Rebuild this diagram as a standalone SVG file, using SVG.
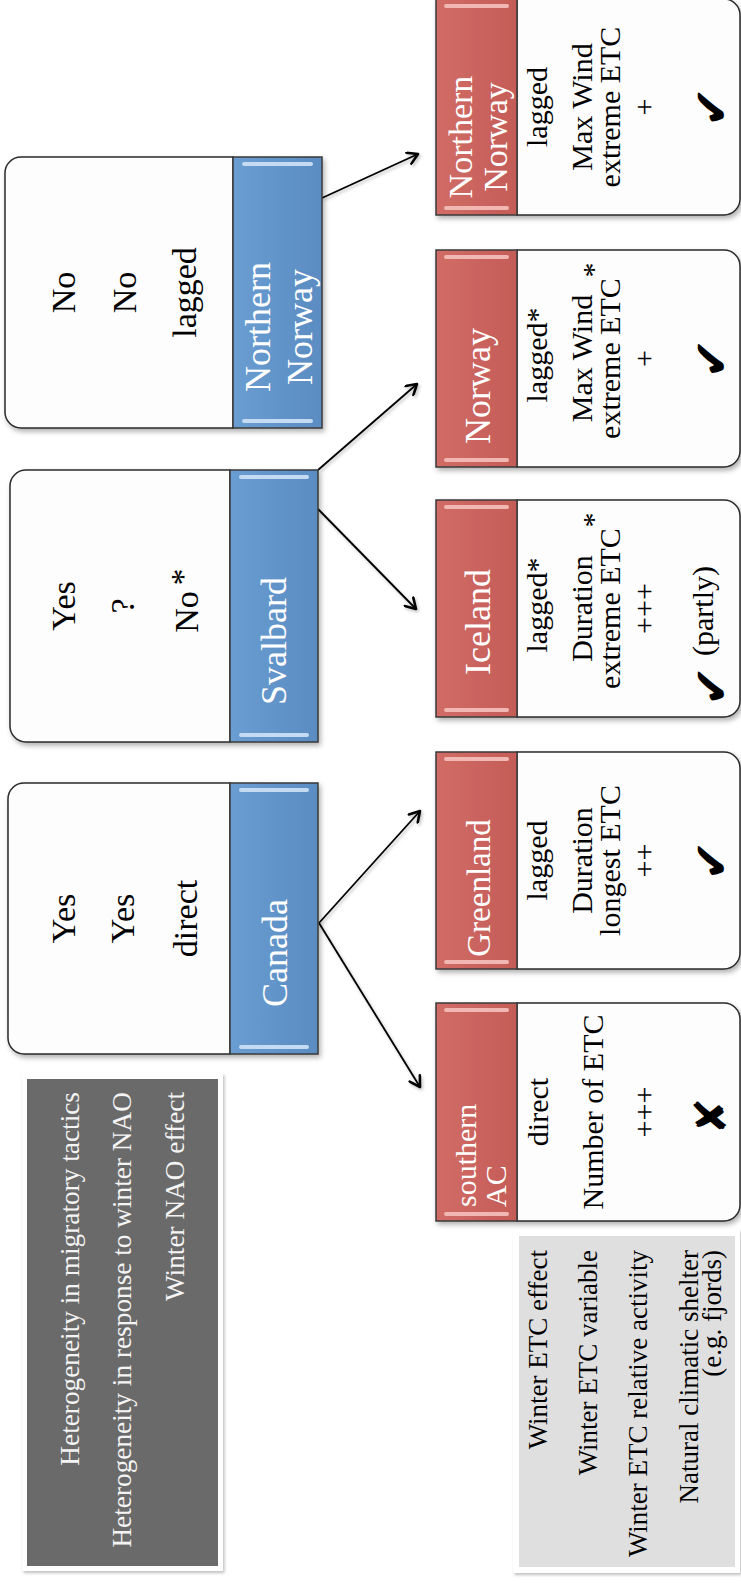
<svg xmlns="http://www.w3.org/2000/svg" width="741" height="1583" viewBox="0 0 741 1583">
<style>
.box{fill:#fdfdfd;stroke:#2a2a2a;stroke-width:1.5}
.blue{fill:url(#gb);stroke:#3a3a3a;stroke-width:1.5}
.red{fill:url(#gr);stroke:#3a3a3a;stroke-width:1.5}
.hb{fill:#c4dbf3}
.hr{fill:#f1b7b3}
.t{font-family:"Liberation Serif","Times New Roman",serif}
.body{font-size:34px;fill:#000;text-anchor:middle}
.rb{font-size:30px;fill:#000;text-anchor:middle}
.hdr{font-size:36px;fill:#fff;text-anchor:middle}
.sym{font-family:"DejaVu Sans",sans-serif;font-size:48px;fill:#000;text-anchor:middle}
.legd{font-size:27.3px;fill:#f4f4f4;text-anchor:end}
.legl{font-size:27px;fill:#000;text-anchor:end}
.con{fill:none;stroke:#000;stroke-width:1.8;marker-end:url(#arr)}
</style>
<defs>
<linearGradient id="gb" x1="0" y1="0" x2="1" y2="0"><stop offset="0" stop-color="#6a9dd1"/><stop offset="1" stop-color="#5a8cc2"/></linearGradient>
<linearGradient id="gr" x1="0" y1="0" x2="1" y2="0"><stop offset="0" stop-color="#d16c66"/><stop offset="1" stop-color="#c45c57"/></linearGradient>
<filter id="sh" x="-10%" y="-10%" width="130%" height="130%"><feDropShadow dx="2" dy="3" stdDeviation="2.5" flood-color="#000" flood-opacity="0.3"/></filter>
<filter id="shl" x="-10%" y="-10%" width="130%" height="130%"><feDropShadow dx="1.5" dy="2" stdDeviation="1.5" flood-color="#000" flood-opacity="0.25"/></filter>
<marker id="arr" viewBox="0 0 14 14" refX="12" refY="7" markerWidth="14" markerHeight="14" markerUnits="userSpaceOnUse" orient="auto"><path d="M2,1 L12,7 L2,13" fill="none" stroke="#000" stroke-width="2.6" stroke-linecap="round" stroke-linejoin="round"/></marker>
</defs>
<rect x="0" y="0" width="741" height="1583" fill="#fff"/>

<g id="connectors" filter="url(#shl)">
<path class="con" d="M322,198 L418,154"/>
<path class="con" d="M318,470 L417,384"/>
<path class="con" d="M318,509 L416,609"/>
<path class="con" d="M319,923 L420,811"/>
<path class="con" d="M319,923 L420,1087"/>
</g>

<g id="node-northern-norway-blue">
<g filter="url(#sh)">
<path class="box" d="M233,157 H21 A16,16 0 0 0 5,173 V412 A16,16 0 0 0 21,428 H233 Z"/>
<rect class="blue" x="233" y="157" width="89" height="271"/>
</g>
<rect class="hb" x="242" y="162" width="71" height="4" rx="2"/>
<rect class="hb" x="242" y="419" width="71" height="4" rx="2"/>
<text class="t body" transform="translate(75,292.5) rotate(-90)">No</text>
<text class="t body" transform="translate(136,292.5) rotate(-90)">No</text>
<text class="t body" transform="translate(196,292.5) rotate(-90)">lagged</text>
<text class="t hdr" transform="translate(270,327) rotate(-90)">Northern</text>
<text class="t hdr" transform="translate(312,327) rotate(-90)">Norway</text>
</g>

<g id="node-svalbard">
<g filter="url(#sh)">
<path class="box" d="M230,470 H26 A16,16 0 0 0 10,486 V726 A16,16 0 0 0 26,742 H230 Z"/>
<rect class="blue" x="230" y="470" width="88" height="272"/>
</g>
<rect class="hb" x="239" y="475" width="70" height="4" rx="2"/>
<rect class="hb" x="239" y="733" width="70" height="4" rx="2"/>
<text class="t body" transform="translate(75,606) rotate(-90)">Yes</text>
<text class="t body" transform="translate(134,606) rotate(-90)">?</text>
<text class="t body" transform="translate(198,612) rotate(-90)">No</text>
<text class="t body" transform="translate(194,577) rotate(-90)">*</text>
<text class="t hdr" transform="translate(286,641) rotate(-90)">Svalbard</text>
</g>

<g id="node-canada">
<g filter="url(#sh)">
<path class="box" d="M230,783 H24 A16,16 0 0 0 8,799 V1038 A16,16 0 0 0 24,1054 H230 Z"/>
<rect class="blue" x="230" y="783" width="88" height="271"/>
</g>
<rect class="hb" x="239" y="788" width="70" height="4" rx="2"/>
<rect class="hb" x="239" y="1045" width="70" height="4" rx="2"/>
<text class="t body" transform="translate(75,918.5) rotate(-90)">Yes</text>
<text class="t body" transform="translate(134,918.5) rotate(-90)">Yes</text>
<text class="t body" transform="translate(197,918.5) rotate(-90)">direct</text>
<text class="t hdr" transform="translate(287,953) rotate(-90)">Canada</text>
</g>

<g id="legend-nao">
<rect x="22" y="1073" width="201" height="498" fill="#fff" filter="url(#shl)"/>
<rect x="27" y="1079" width="191" height="487" fill="#6a6a6a"/>
<text class="t legd" transform="translate(79,1092) rotate(-90)">Heterogeneity in migratory tactics</text>
<text class="t legd" transform="translate(131,1092) rotate(-90)">Heterogeneity in response to winter NAO</text>
<text class="t legd" transform="translate(184,1092) rotate(-90)">Winter NAO effect</text>
</g>

<g id="node-northern-norway-red">
<g filter="url(#sh)">
<path class="box" d="M517,-1 H724 A16,16 0 0 1 740,15 V199 A16,16 0 0 1 724,215 H517 Z"/>
<rect class="red" x="436" y="-1" width="81" height="216"/>
</g>
<rect class="hr" x="444" y="4" width="65" height="4" rx="2"/>
<rect class="hr" x="444" y="206" width="65" height="4" rx="2"/>
<text class="t hdr" style="font-size:34px" transform="translate(472,137) rotate(-90)">Northern</text>
<text class="t hdr" style="font-size:34px" transform="translate(507,137) rotate(-90)">Norway</text>
<text class="t rb" transform="translate(547,107) rotate(-90)">lagged</text>
<text class="t rb" transform="translate(592,107) rotate(-90)">Max Wind</text>
<text class="t rb" transform="translate(620,107) rotate(-90)">extreme ETC</text>
<text class="t rb" transform="translate(654,107) rotate(-90)">+</text>
<text class="sym" transform="translate(728,107) rotate(-90)">✔</text>
</g>

<g id="node-norway">
<g filter="url(#sh)">
<path class="box" d="M517,250 H724 A16,16 0 0 1 740,266 V451 A16,16 0 0 1 724,467 H517 Z"/>
<rect class="red" x="436" y="250" width="81" height="217"/>
</g>
<rect class="hr" x="444" y="255" width="65" height="4" rx="2"/>
<rect class="hr" x="444" y="458" width="65" height="4" rx="2"/>
<text class="t hdr" transform="translate(490,386) rotate(-90)">Norway</text>
<text class="t rb" transform="translate(547,355) rotate(-90)">lagged*</text>
<text class="t rb" transform="translate(592,358.5) rotate(-90)">Max Wind</text>
<text class="t rb" transform="translate(620,358.5) rotate(-90)">extreme ETC</text>
<text class="t rb" transform="translate(603,270) rotate(-90)">*</text>
<text class="t rb" transform="translate(654,358.5) rotate(-90)">+</text>
<text class="sym" transform="translate(728,358.5) rotate(-90)">✔</text>
</g>

<g id="node-iceland">
<g filter="url(#sh)">
<path class="box" d="M517,500 H724 A16,16 0 0 1 740,516 V701 A16,16 0 0 1 724,717 H517 Z"/>
<rect class="red" x="436" y="500" width="81" height="217"/>
</g>
<rect class="hr" x="444" y="505" width="65" height="4" rx="2"/>
<rect class="hr" x="444" y="708" width="65" height="4" rx="2"/>
<text class="t hdr" transform="translate(490,622) rotate(-90)">Iceland</text>
<text class="t rb" transform="translate(547,605) rotate(-90)">lagged*</text>
<text class="t rb" transform="translate(592,608.5) rotate(-90)">Duration</text>
<text class="t rb" transform="translate(620,608.5) rotate(-90)">extreme ETC</text>
<text class="t rb" transform="translate(603,520) rotate(-90)">*</text>
<text class="t rb" transform="translate(654,608.5) rotate(-90)">+++</text>
<text class="sym" transform="translate(728,686) rotate(-90)">✔</text>
<text class="t rb" transform="translate(713,611) rotate(-90)">(partly)</text>
</g>

<g id="node-greenland">
<g filter="url(#sh)">
<path class="box" d="M517,752 H724 A16,16 0 0 1 740,768 V953 A16,16 0 0 1 724,969 H517 Z"/>
<rect class="red" x="436" y="752" width="81" height="217"/>
</g>
<rect class="hr" x="444" y="757" width="65" height="4" rx="2"/>
<rect class="hr" x="444" y="960" width="65" height="4" rx="2"/>
<text class="t hdr" style="font-size:33px" transform="translate(490,888) rotate(-90)">Greenland</text>
<text class="t rb" transform="translate(547,860.5) rotate(-90)">lagged</text>
<text class="t rb" transform="translate(592,860.5) rotate(-90)">Duration</text>
<text class="t rb" transform="translate(620,860.5) rotate(-90)">longest ETC</text>
<text class="t rb" transform="translate(654,860.5) rotate(-90)">++</text>
<text class="sym" transform="translate(728,860.5) rotate(-90)">✔</text>
</g>

<g id="node-southern-ac">
<g filter="url(#sh)">
<path class="box" d="M517,1003 H724 A16,16 0 0 1 740,1019 V1205 A16,16 0 0 1 724,1221 H517 Z"/>
<rect class="red" x="436" y="1003" width="81" height="218"/>
</g>
<rect class="hr" x="444" y="1008" width="65" height="4" rx="2"/>
<rect class="hr" x="444" y="1212" width="65" height="4" rx="2"/>
<text class="t hdr" style="font-size:30px;text-anchor:start" transform="translate(476,1207) rotate(-90)">southern</text>
<text class="t hdr" style="font-size:30px;text-anchor:start" transform="translate(506,1207) rotate(-90)">AC</text>
<text class="t rb" transform="translate(548,1112) rotate(-90)">direct</text>
<text class="t rb" transform="translate(603,1112) rotate(-90)">Number of ETC</text>
<text class="t rb" transform="translate(654,1112) rotate(-90)">+++</text>
<text class="sym" style="font-size:44px" transform="translate(726,1116) rotate(-90)">✘</text>
</g>

<g id="legend-etc">
<rect x="513" y="1229" width="227" height="344" fill="#fff" filter="url(#shl)"/>
<rect x="519" y="1236" width="216" height="331" fill="#dfdfdf"/>
<text class="t legl" transform="translate(547,1250) rotate(-90)">Winter ETC effect</text>
<text class="t legl" transform="translate(597,1250) rotate(-90)">Winter ETC variable</text>
<text class="t legl" transform="translate(647,1250) rotate(-90)">Winter ETC relative activity</text>
<text class="t legl" transform="translate(698,1250) rotate(-90)">Natural climatic shelter</text>
<text class="t legl" transform="translate(721,1250) rotate(-90)">(e.g. fjords)</text>
</g>
</svg>
